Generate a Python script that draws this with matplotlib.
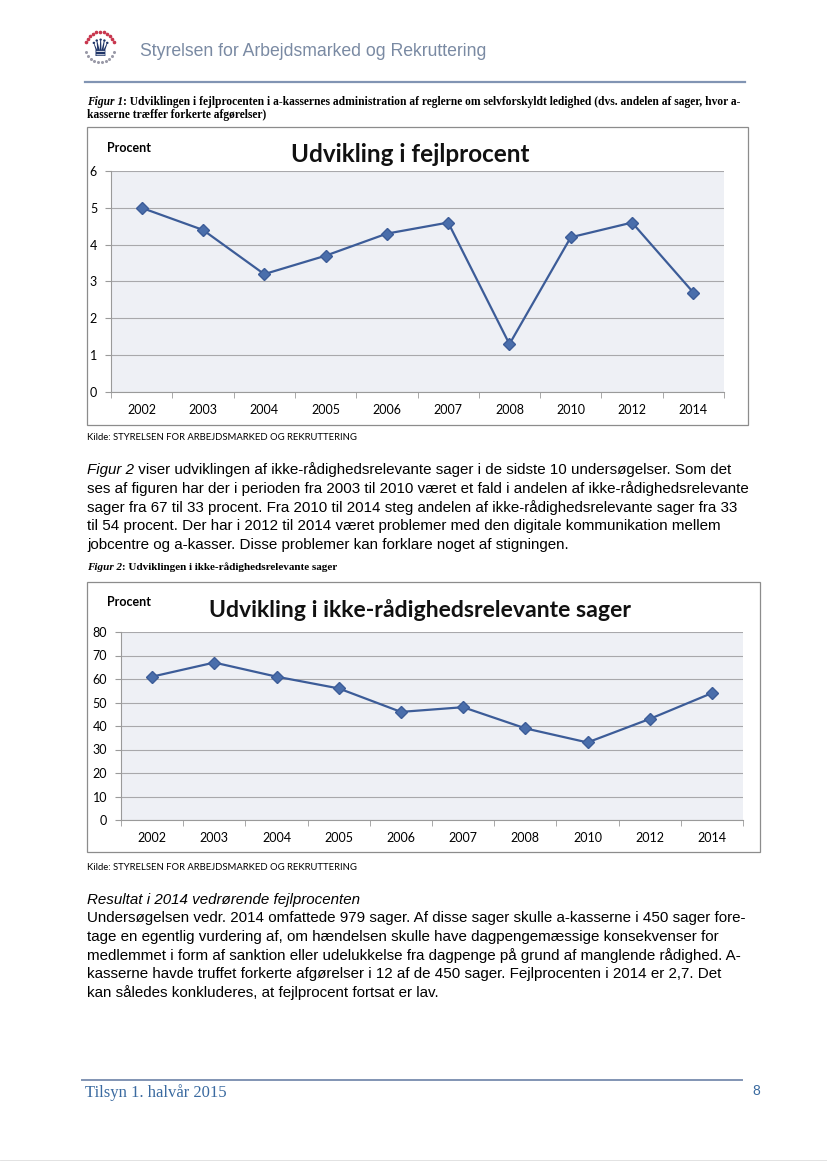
import numpy as np
import matplotlib
matplotlib.use("Agg")
from matplotlib import pyplot as plt
from matplotlib.patches import Rectangle

# data
years = ["2002", "2003", "2004", "2005", "2006", "2007", "2008", "2010", "2012", "2014"]
fejlprocent = [5.0, 4.4, 3.2, 3.7, 4.3, 4.6, 1.3, 4.2, 4.6, 2.7]
ikke_raadighed = [61, 67, 61, 56, 46, 48, 39, 33, 43, 54]

W, H = 827, 1170
fig = plt.figure(figsize=(W / 100, H / 100), dpi=100)
page = fig.add_axes([0, 0, 1, 1])
page.set_xlim(0, W)
page.set_ylim(H, 0)
page.axis("off")

SANS = "Liberation Sans"
SERIF = "Liberation Serif"
CHART = "Lato"
line_col = "#3c5c98"
marker_col = "#4a6eab"
BODY = 10.9


def pieces(x, y, parts, size, family, color="black"):
    # draw text parts one after another on the same line
    r = fig.canvas.get_renderer()
    for txt, style, weight in parts:
        t = page.text(x, y, txt, fontsize=size, family=family, style=style,
                      weight=weight, color=color, va="center", ha="left")
        x += t.get_window_extent(renderer=r).width


def chart(box, area, values, ymax, ystep, title, title_x, title_y, title_size, proc_y):
    bx0, by0, bx1, by1 = box
    page.add_patch(Rectangle((bx0, by0), bx1 - bx0, by1 - by0, fill=False,
                             edgecolor="#8c8c8c", lw=0.9))
    ax0, ay0, ax1, ay1 = area
    ax = fig.add_axes([ax0 / W, 1 - ay1 / H, (ax1 - ax0) / W, (ay1 - ay0) / H])
    ax.set_facecolor("#eef0f5")
    x = np.arange(len(years))
    ax.plot(x, values, color=line_col, lw=1.6, marker="D", markersize=6,
            markerfacecolor=marker_col, markeredgecolor=line_col, zorder=3)
    ax.set_xlim(-0.5, len(years) - 0.5)
    ax.set_ylim(0, ymax)
    ax.set_yticks(np.arange(0, ymax + 1, ystep))
    ax.yaxis.grid(True, color="#a8a8ab", lw=0.8)
    ax.set_axisbelow(True)
    ax.set_xticks(x)
    ax.set_xticklabels(years, fontsize=9, family=CHART)
    ax.set_xticks(np.arange(-0.5, len(years), 1), minor=True)
    ax.tick_params(axis="x", which="major", length=0, pad=9)
    ax.tick_params(axis="x", which="minor", length=4, color="#9a9a9a")
    ax.tick_params(axis="y", length=4, color="#9a9a9a", labelsize=9, pad=6)
    for lab in ax.get_yticklabels():
        lab.set_family(CHART)
    for s in ["top", "right"]:
        ax.spines[s].set_visible(False)
    for s in ["left", "bottom"]:
        ax.spines[s].set_color("#9a9a9a")
        ax.spines[s].set_linewidth(0.8)
    page.text(title_x, title_y, title, fontsize=title_size, family=CHART, weight="bold",
              ha="center", va="center", color="#111111")
    page.text(bx0 + 20, proc_y, "Procent", fontsize=9, family=CHART,
              weight="bold", ha="left", va="center")
    return ax


# header
page.text(100, 49, "\u265b", fontsize=17, family="DejaVu Sans", color="#1f3568",
          ha="center", va="center")
for a in np.linspace(160, 20, 11):
    page.plot(100 + 15 * np.cos(np.radians(a)), 47 - 15 * np.sin(np.radians(a)),
              "o", ms=1.6, color="#c8364e")
for a in np.linspace(200, 340, 10):
    page.plot(100 + 15 * np.cos(np.radians(a)), 47 - 15 * np.sin(np.radians(a)),
              "o", ms=1.2, color="#9a9aa8")
page.text(140, 52, "Styrelsen for Arbejdsmarked og Rekruttering", fontsize=12.7,
          family=SANS, color="#7a8aa3", va="center")
page.plot([85, 745], [82, 82], color="#8194b3", lw=1.6)

# caption figure 1
pieces(87, 102, [("Figur 1", "italic", "bold"),
                 (": Udviklingen i fejlprocenten i a-kassernes administration af reglerne om "
                  "selvforskyldt ledighed (dvs. andelen af sager, hvor a-", "normal", "bold")],
       8.3, SERIF)
pieces(87, 115, [("kasserne træffer forkerte afgørelser)", "normal", "bold")], 8.3, SERIF)

chart((87, 127, 748, 425), (111, 171, 724, 392), fejlprocent, 6, 1,
      "Udvikling i fejlprocent", 410, 155, 17.5, 148)
page.text(87, 438, "Kilde: STYRELSEN FOR ARBEJDSMARKED OG REKRUTTERING",
          fontsize=6.8, family=CHART, va="center")

# paragraph
para = [
    "ses af figuren har der i perioden fra 2003 til 2010 været et fald i andelen af ikke-rådighedsrelevante",
    "sager fra 67 til 33 procent. Fra 2010 til 2014 steg andelen af ikke-rådighedsrelevante sager fra 33",
    "til 54 procent. Der har i 2012 til 2014 været problemer med den digitale kommunikation mellem",
    "jobcentre og a-kasser. Disse problemer kan forklare noget af stigningen.",
]
pieces(87, 470, [("Figur 2", "italic", "normal"),
                 (" viser udviklingen af ikke-rådighedsrelevante sager i de sidste 10 "
                  "undersøgelser. Som det", "normal", "normal")], BODY, SANS)
for i, ln in enumerate(para):
    page.text(87, 489 + i * 18.6, ln, fontsize=BODY, family=SANS, va="center")

pieces(87, 567, [("Figur 2", "italic", "bold"),
                 (": Udviklingen i ikke-rådighedsrelevante sager", "normal", "bold")],
       8.0, SERIF)

chart((87, 582, 760, 852), (121, 632, 743, 820), ikke_raadighed, 80, 10,
      "Udvikling i ikke-rådighedsrelevante sager", 420, 610, 16.6, 602)
page.text(87, 867, "Kilde: STYRELSEN FOR ARBEJDSMARKED OG REKRUTTERING",
          fontsize=6.8, family=CHART, va="center")

# result section
page.text(87, 900, "Resultat i 2014 vedrørende fejlprocenten", fontsize=BODY,
          family=SANS, style="italic", va="center")
result = [
    "Undersøgelsen vedr. 2014 omfattede 979 sager. Af disse sager skulle a-kasserne i 450 sager fore-",
    "tage en egentlig vurdering af, om hændelsen skulle have dagpengemæssige konsekvenser for",
    "medlemmet i form af sanktion eller udelukkelse fra dagpenge på grund af manglende rådighed. A-",
    "kasserne havde truffet forkerte afgørelser i 12 af de 450 sager. Fejlprocenten i 2014 er 2,7. Det",
    "kan således konkluderes, at fejlprocent fortsat er lav.",
]
for i, ln in enumerate(result):
    page.text(87, 918 + i * 18.6, ln, fontsize=BODY, family=SANS, va="center")

# footer
page.plot([82, 742], [1080, 1080], color="#8194b3", lw=1.4)
page.text(85, 1093, "Tilsyn 1. halvår 2015", fontsize=12, family=SERIF,
          color="#3a6aa0", va="center")
page.text(752, 1091, "8", fontsize=10, family=SANS, color="#3a6aa0", va="center")
page.plot([0, W], [1160, 1160], color="#dddddd", lw=0.6)

fig.savefig("out.png", dpi=100)
